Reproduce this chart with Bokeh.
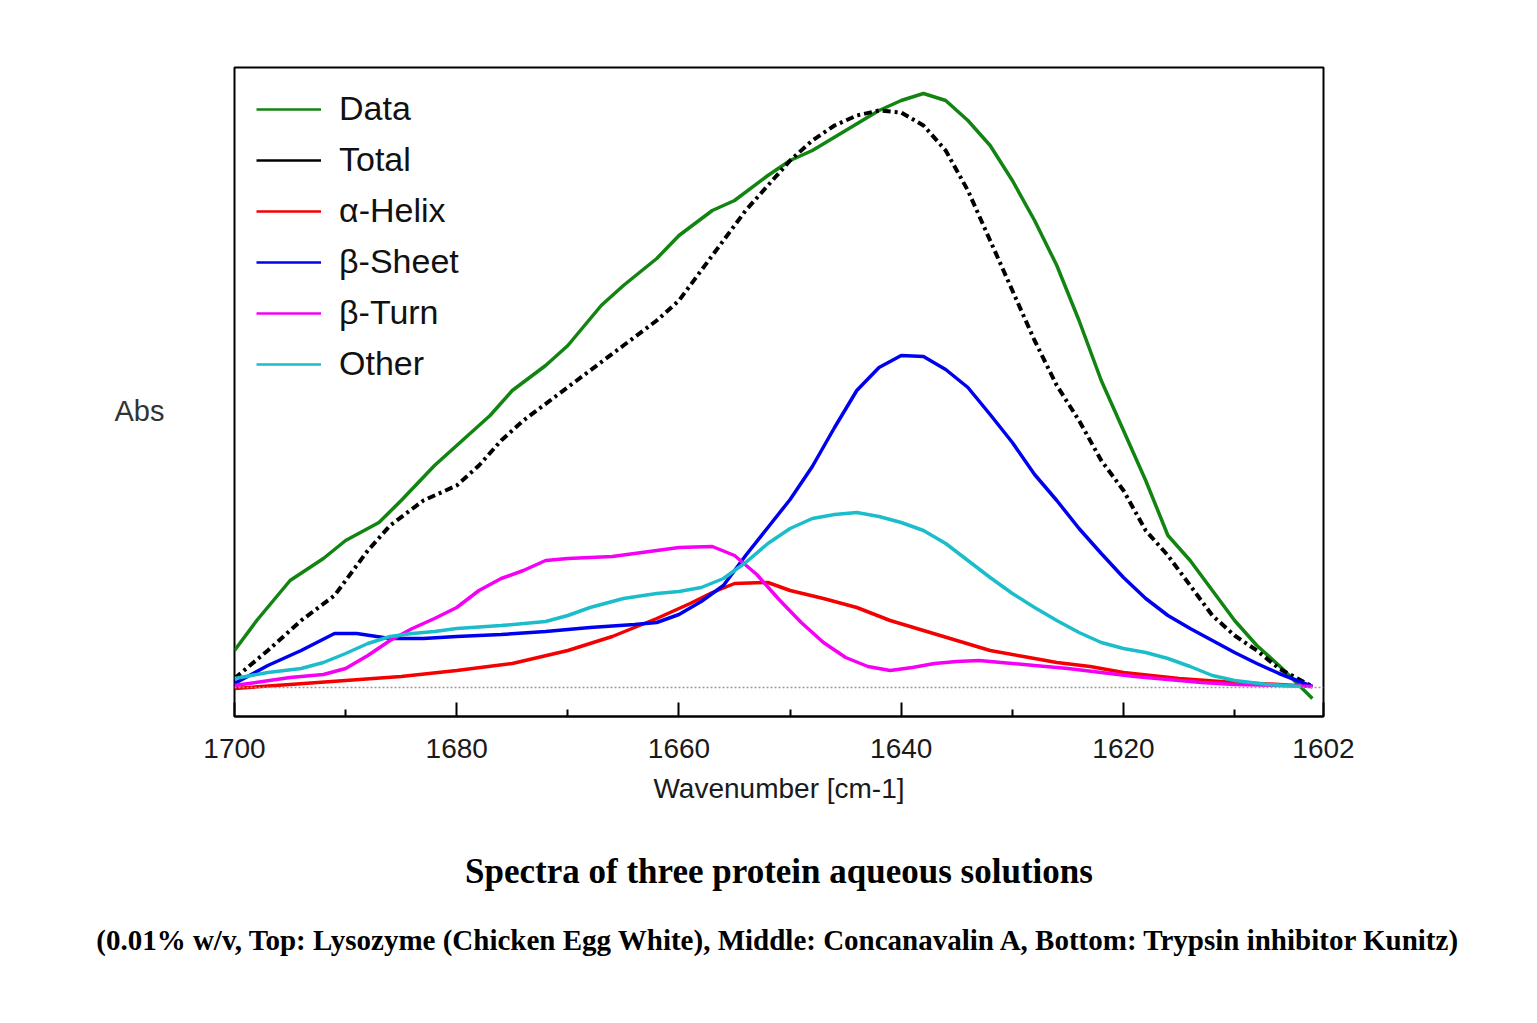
from bokeh.plotting import figure
from bokeh.models import Range1d, FixedTicker, Legend, LegendItem, Title, Span
from bokeh.embed import file_html
from bokeh.resources import INLINE

# ---------------- data ----------------
data_wn = [1700, 1698, 1695, 1692, 1690, 1687, 1685, 1682, 1680, 1677, 1675, 1672, 1670, 1667,
           1665, 1662, 1660, 1657, 1655, 1652, 1650, 1648, 1645, 1642, 1640, 1638, 1636, 1634,
           1632, 1630, 1628, 1626, 1624, 1622, 1620, 1618, 1616, 1614, 1612, 1610, 1608, 1606, 1603]
data_abs = [0.037, 0.067, 0.107, 0.129, 0.147, 0.165, 0.187, 0.222, 0.242, 0.272, 0.297, 0.322,
            0.342, 0.382, 0.402, 0.429, 0.452, 0.477, 0.487, 0.512, 0.527, 0.537, 0.557, 0.577,
            0.587, 0.594, 0.587, 0.567, 0.542, 0.507, 0.467, 0.422, 0.367, 0.307, 0.257, 0.207,
            0.152, 0.127, 0.097, 0.067, 0.042, 0.022, -0.011]

total_wn = [1700, 1697, 1694, 1691, 1688, 1686, 1683, 1680, 1678, 1676, 1674, 1671, 1668, 1665,
            1662, 1660, 1658, 1656, 1654, 1652, 1650, 1648, 1646, 1644, 1642, 1640, 1638, 1636,
            1634, 1632, 1630, 1628, 1626, 1624, 1622, 1620, 1618, 1616, 1614, 1612, 1610, 1608,
            1606, 1603]
total_abs = [0.009, 0.037, 0.067, 0.092, 0.137, 0.162, 0.187, 0.202, 0.222, 0.247, 0.267, 0.292,
             0.317, 0.342, 0.367, 0.387, 0.417, 0.447, 0.477, 0.502, 0.527, 0.547, 0.562, 0.572,
             0.577, 0.575, 0.562, 0.537, 0.497, 0.447, 0.397, 0.347, 0.302, 0.267, 0.227, 0.197,
             0.157, 0.132, 0.102, 0.072, 0.052, 0.037, 0.019, 0.001]

helix_wn = [1700, 1695, 1690, 1685, 1680, 1675, 1670, 1666, 1662, 1659, 1657, 1655, 1652, 1650,
            1647, 1644, 1641, 1638, 1635, 1632, 1629, 1626, 1623, 1620, 1615, 1610, 1606, 1603]
helix_abs = [-0.001, 0.003, 0.007, 0.011, 0.017, 0.024, 0.037, 0.051, 0.069, 0.084, 0.095, 0.104,
             0.105, 0.097, 0.089, 0.080, 0.067, 0.057, 0.047, 0.037, 0.031, 0.025, 0.021, 0.015,
             0.009, 0.005, 0.003, 0.001]

sheet_wn = [1700, 1697, 1694, 1691, 1689, 1686, 1683, 1680, 1676, 1672, 1668, 1664, 1662, 1660,
            1658, 1656, 1654, 1652, 1650, 1648, 1646, 1644, 1642, 1640, 1638, 1636, 1634, 1632,
            1630, 1628, 1626, 1624, 1622, 1620, 1618, 1616, 1614, 1612, 1610, 1608, 1606, 1603]
sheet_abs = [0.004, 0.022, 0.037, 0.054, 0.054, 0.049, 0.049, 0.051, 0.053, 0.056, 0.060, 0.063,
             0.065, 0.073, 0.086, 0.102, 0.132, 0.160, 0.188, 0.221, 0.260, 0.297, 0.320, 0.332,
             0.331, 0.318, 0.300, 0.273, 0.245, 0.213, 0.187, 0.159, 0.134, 0.110, 0.089, 0.072,
             0.059, 0.047, 0.035, 0.024, 0.014, 0.001]

turn_wn = [1700, 1695, 1692, 1690, 1688, 1686, 1684, 1682, 1680, 1678, 1676, 1674, 1672, 1670,
           1666, 1662, 1660, 1657, 1655, 1653, 1651, 1649, 1647, 1645, 1643, 1641, 1639, 1637,
           1635, 1633, 1631, 1628, 1625, 1622, 1619, 1616, 1613, 1610, 1606, 1603]
turn_abs = [0.002, 0.010, 0.013, 0.019, 0.032, 0.047, 0.059, 0.069, 0.080, 0.097, 0.109, 0.117,
            0.127, 0.129, 0.131, 0.137, 0.140, 0.141, 0.132, 0.113, 0.088, 0.065, 0.045, 0.030,
            0.021, 0.017, 0.020, 0.024, 0.026, 0.027, 0.025, 0.022, 0.019, 0.015, 0.011, 0.008,
            0.005, 0.003, 0.002, 0.001]

other_wn = [1700, 1697, 1694, 1692, 1690, 1688, 1686, 1684, 1682, 1680, 1676, 1672, 1670, 1668,
            1665, 1662, 1660, 1658, 1656, 1654, 1652, 1650, 1648, 1646, 1644, 1642, 1640, 1638,
            1636, 1634, 1632, 1630, 1628, 1626, 1624, 1622, 1620, 1618, 1616, 1614, 1612, 1610,
            1607, 1604]
other_abs = [0.009, 0.015, 0.019, 0.025, 0.034, 0.044, 0.051, 0.054, 0.056, 0.059, 0.062, 0.066,
             0.072, 0.080, 0.089, 0.094, 0.096, 0.100, 0.109, 0.125, 0.144, 0.159, 0.169, 0.173,
             0.175, 0.171, 0.165, 0.157, 0.144, 0.127, 0.110, 0.094, 0.080, 0.067, 0.055, 0.045,
             0.039, 0.035, 0.029, 0.021, 0.012, 0.007, 0.003, 0.001]

tick_values = [1700, 1680, 1660, 1640, 1620, 1602]
minor_tick_values = [1690, 1670, 1650, 1630, 1610]

labels = ["Data", "Total", "α-Helix", "β-Sheet", "β-Turn", "Other"]
colors = ["#128412", "#000000", "#f50000", "#0000f0", "#f500f5", "#1cbdca"]

title_text = "Spectra of three protein aqueous solutions"
caption_text = "(0.01% w/v, Top: Lysozyme (Chicken Egg White), Middle: Concanavalin A, Bottom: Trypsin inhibitor Kunitz)"

# ---------------- figure ----------------
p = figure(width=1537, height=1023, output_backend="svg", toolbar_location=None,
           x_range=Range1d(1700, 1602), y_range=Range1d(-0.029, 0.620),
           min_border_left=234, min_border_right=214, min_border_top=67, min_border_bottom=307)
p.grid.visible = False
p.outline_line_color = "black"
p.outline_line_width = 2
p.background_fill_color = "white"
p.border_fill_color = "white"

ax = p.xaxis[0]
ax.ticker = FixedTicker(ticks=tick_values, minor_ticks=minor_tick_values)
ax.axis_line_width = 2
ax.axis_line_color = "black"
ax.major_tick_in = 14
ax.major_tick_out = 0
ax.minor_tick_in = 7
ax.minor_tick_out = 0
ax.major_tick_line_width = 2
ax.minor_tick_line_width = 2
ax.major_label_text_font = "Liberation Sans"
ax.major_label_text_font_size = "28px"
ax.major_label_text_color = "#1a1a1a"
ax.major_label_standoff = 22
ax.axis_label = "Wavenumber [cm-1]"
ax.axis_label_text_font = "Liberation Sans"
ax.axis_label_text_font_size = "28px"
ax.axis_label_text_font_style = "normal"
ax.axis_label_text_color = "#1a1a1a"
ax.axis_label_standoff = 12

# y axis: label only ("Abs"), no ticks or numbers
yax = p.yaxis[0]
yax.ticker = FixedTicker(ticks=[])
yax.axis_line_alpha = 0
yax.major_tick_in = 0
yax.major_tick_out = 0
yax.minor_tick_in = 0
yax.minor_tick_out = 0
yax.major_label_text_font_size = "0px"
yax.axis_label = "\nAbs"
yax.axis_label_text_font = "Liberation Sans"
yax.axis_label_text_font_size = "29px"
yax.axis_label_text_font_style = "normal"
yax.axis_label_text_color = "#333333"
yax.axis_label_orientation = "horizontal"
yax.axis_label_standoff = 70

# zero baseline
p.add_layout(Span(location=0, dimension="width", line_color="#9a9a9a",
                  line_dash="2 2", line_width=1.5))

lw = 3.5
p.line(data_wn, data_abs, line_color=colors[0], line_width=lw)
p.line(total_wn, total_abs, line_color=colors[1], line_width=4, line_dash="8 4 3 4")
p.line(helix_wn, helix_abs, line_color=colors[2], line_width=lw)
p.line(sheet_wn, sheet_abs, line_color=colors[3], line_width=lw)
p.line(turn_wn, turn_abs, line_color=colors[4], line_width=lw)
p.line(other_wn, other_abs, line_color=colors[5], line_width=lw)

# legend (solid swatches, hidden proxy renderers)
series_x = [data_wn, total_wn, helix_wn, sheet_wn, turn_wn, other_wn]
series_y = [data_abs, total_abs, helix_abs, sheet_abs, turn_abs, other_abs]
items = []
for lab, col, sx, sy in zip(labels, colors, series_x, series_y):
    r = p.line(sx, sy, line_color=col, line_width=2.5)
    r.visible = False
    items.append(LegendItem(label=lab, renderers=[r]))
legend = Legend(items=items, location="top_left", border_line_alpha=0,
                background_fill_alpha=0, inactive_fill_alpha=0,
                glyph_width=65, glyph_height=38,
                label_height=38, label_standoff=18, spacing=12, margin=9, padding=13,
                label_text_font="Liberation Sans", label_text_font_size="34px",
                label_text_color="#111111")
p.add_layout(legend)

t1 = Title(text=title_text, align="center", text_font="Liberation Serif",
           text_font_size="35px", text_font_style="bold", text_color="black", standoff=86)
t2 = Title(text=caption_text, align="center", text_font="Liberation Serif",
           text_font_size="29px", text_font_style="bold", text_color="black", standoff=-45)
p.add_layout(t1, "below")
p.add_layout(t2, "below")

open("out.html", "w").write(file_html(p, INLINE))
